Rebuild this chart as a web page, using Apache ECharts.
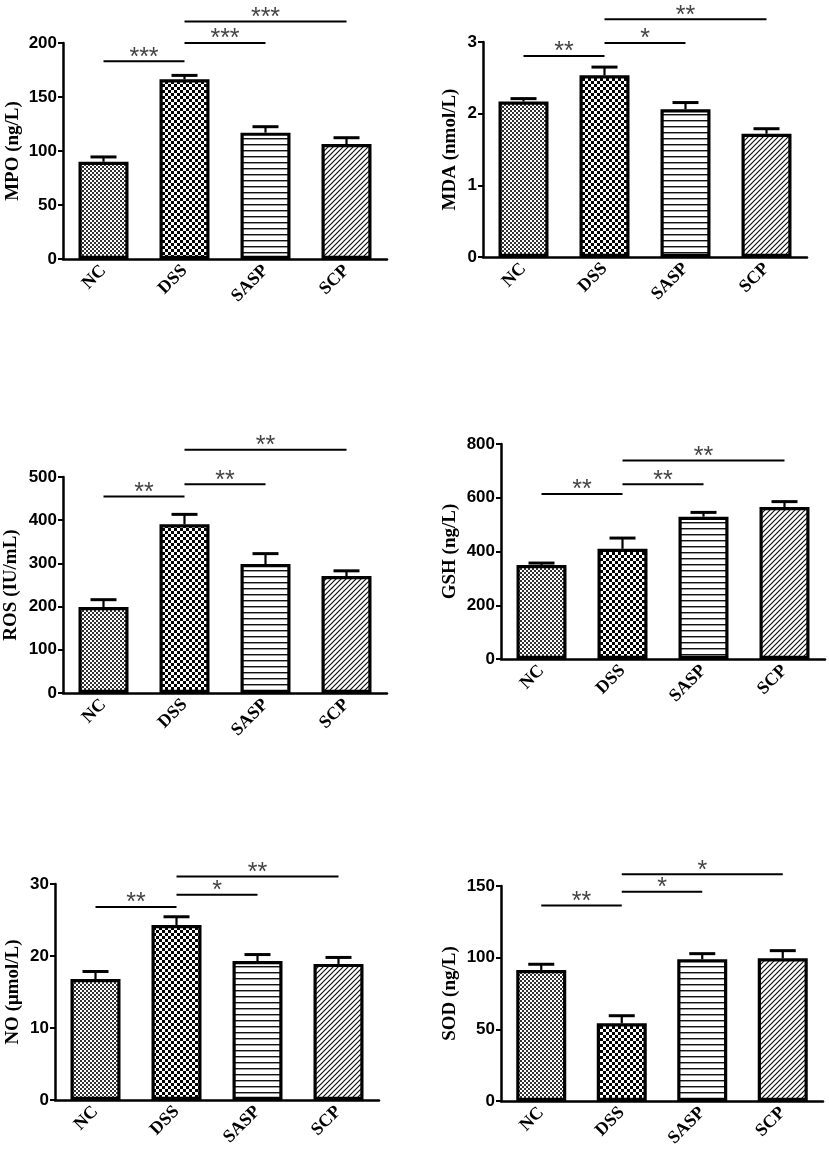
<!DOCTYPE html>
<html>
<head>
<meta charset="utf-8">
<title></title>
    <style>
        * {
            margin: 0;
            padding: 0;
        }
        body {
            background: #fff;
        }
        #main {
            width: 829px;
            height: 1152px;
        }
    </style>
</head>
<body>
<div id="main"></div>
<script src="https://cdn.jsdelivr.net/npm/echarts@6/dist/echarts.min.js"></script>
<script>
    var groups = ['NC', 'DSS', 'SASP', 'SCP'];

    // means and error (SEM, upper bar only)
    var mpoMean = [90, 166.4, 117, 106.5];
    var mpoErr = [4.5, 3.6, 5.5, 5.8];
    var mdaMean = [2.17, 2.535, 2.06, 1.72];
    var mdaErr = [0.04, 0.115, 0.095, 0.07];
    var rosMean = [199, 390.5, 298.6, 270.8];
    var rosErr = [17, 23, 24, 12];
    var gshMean = [350, 410, 529.5, 565.6];
    var gshErr = [7, 40, 16, 20];
    var noMean = [16.8, 24.3, 19.3, 18.9];
    var noErr = [1.05, 1.15, 0.9, 0.9];
    var sodMean = [91.4, 54.2, 98.9, 99.6];
    var sodErr = [4, 5.3, 3.9, 5.3];

    // significance brackets: [from group, to group, height, stars]
    var mpoSig = [[0, 1, 183, '***'], [1, 2, 200, '***'], [1, 3, 220, '***']];
    var mdaSig = [[0, 1, 2.805, '**'], [1, 2, 2.986, '*'], [1, 3, 3.317, '**']];
    var rosSig = [[0, 1, 455, '**'], [1, 2, 483, '**'], [1, 3, 563, '**']];
    var gshSig = [[0, 1, 614, '**'], [1, 2, 650, '**'], [1, 3, 739, '**']];
    var noSig = [[0, 1, 26.8, '**'], [1, 2, 28.5, '*'], [1, 3, 31.05, '**']];
    var sodSig = [[0, 1, 136.4, '**'], [1, 2, 146, '*'], [1, 3.17, 158.2, '*']];

    var yNames = ['MPO (ng/L)', 'MDA (nmol/L)', 'ROS (IU/mL)', 'GSH (ng/L)', 'NO (μmol/L)', 'SOD (ng/L)'];
    var yMax = [200, 3, 500, 800, 30, 150];
    var yStep = [50, 1, 100, 200, 10, 50];

    // fill patterns
    function makeCanvas(w, h) {
        var c = document.createElement('canvas');
        c.width = w;
        c.height = h;
        return c;
    }
    function checker(size, dark) {
        var c = makeCanvas(size * 2, size * 2);
        var ctx = c.getContext('2d');
        ctx.fillStyle = '#fff';
        ctx.fillRect(0, 0, size * 2, size * 2);
        ctx.fillStyle = dark;
        ctx.fillRect(0, 0, size, size);
        ctx.fillRect(size, size, size, size);
        return c;
    }
    function hLines() {
        var c = makeCanvas(4, 6);
        var ctx = c.getContext('2d');
        ctx.fillStyle = '#fff';
        ctx.fillRect(0, 0, 4, 6);
        ctx.fillStyle = '#111';
        ctx.fillRect(0, 0, 4, 1);
        ctx.fillStyle = '#999';
        ctx.fillRect(0, 1, 4, 1);
        return c;
    }
    function diag() {
        var s = 5;
        var c = makeCanvas(s, s);
        var ctx = c.getContext('2d');
        ctx.fillStyle = '#fff';
        ctx.fillRect(0, 0, s, s);
        ctx.strokeStyle = '#111';
        ctx.lineWidth = 1.2;
        ctx.beginPath();
        ctx.moveTo(0, s); ctx.lineTo(s, 0);
        ctx.moveTo(-1, 1); ctx.lineTo(1, -1);
        ctx.moveTo(s - 1, s + 1); ctx.lineTo(s + 1, s - 1);
        ctx.stroke();
        return c;
    }
    var fills = [
        {image: checker(2, '#333'), repeat: 'repeat'},
        {image: checker(3, '#000'), repeat: 'repeat'},
        {image: hLines(), repeat: 'repeat'},
        {image: diag(), repeat: 'repeat'}
    ];

    var panels = [
        {mean: mpoMean, err: mpoErr, sig: mpoSig, grid: {left: 63, top: 43, width: 324, height: 216}, gap: 40},
        {mean: mdaMean, err: mdaErr, sig: mdaSig, grid: {left: 483, top: 42, width: 324, height: 215}, gap: 23},
        {mean: rosMean, err: rosErr, sig: rosSig, grid: {left: 63, top: 477, width: 324, height: 216}, gap: 42},
        {mean: gshMean, err: gshErr, sig: gshSig, grid: {left: 501, top: 444, width: 324, height: 215}, gap: 41},
        {mean: noMean, err: noErr, sig: noSig, grid: {left: 55, top: 884, width: 324, height: 216}, gap: 32},
        {mean: sodMean, err: sodErr, sig: sodSig, grid: {left: 501, top: 886, width: 322, height: 215}, gap: 41}
    ];

    var option = {
        animation: false,
        backgroundColor: '#fff',
        grid: [],
        xAxis: [],
        yAxis: [],
        series: []
    };

    panels.forEach(function (p, k) {
        option.grid.push(p.grid);
        option.xAxis.push({
            type: 'category',
            gridIndex: k,
            data: groups,
            axisLine: {lineStyle: {color: '#000', width: 2.5}},
            axisTick: {alignWithLabel: true, length: 6, lineStyle: {color: '#000', width: 2}},
            axisLabel: {
                rotate: 45,
                margin: 9,
                color: '#000',
                fontFamily: 'Liberation Serif',
                fontWeight: 'bold',
                fontSize: 18
            }
        });
        option.yAxis.push({
            type: 'value',
            gridIndex: k,
            min: 0,
            max: yMax[k],
            interval: yStep[k],
            name: yNames[k],
            nameLocation: 'middle',
            nameGap: p.gap,
            nameTextStyle: {
                color: '#000',
                fontFamily: 'Liberation Serif',
                fontWeight: 'bold',
                fontSize: 19
            },
            splitLine: {show: false},
            axisLine: {show: true, lineStyle: {color: '#000', width: 2.5}},
            axisTick: {show: true, length: 5, lineStyle: {color: '#000', width: 2}},
            axisLabel: {
                margin: 6,
                color: '#000',
                fontFamily: 'Liberation Sans',
                fontWeight: 'bold',
                fontSize: 17
            }
        });

        option.series.push({
            type: 'bar',
            xAxisIndex: k,
            yAxisIndex: k,
            barWidth: 50,
            data: p.mean.map(function (v, i) {
                return {
                    value: v,
                    itemStyle: {color: fills[i], borderColor: '#000', borderWidth: 3.2}
                };
            }),
            z: 2
        });

        // error bars
        option.series.push({
            type: 'custom',
            xAxisIndex: k,
            yAxisIndex: k,
            data: p.mean.map(function (v, i) { return [i, v, v + p.err[i]]; }),
            encode: {x: 0, y: [1, 2]},
            z: 3,
            renderItem: function (params, api) {
                var lo = api.coord([api.value(0), api.value(1)]);
                var hi = api.coord([api.value(0), api.value(2)]);
                return {
                    type: 'group',
                    children: [
                        {type: 'line', shape: {x1: lo[0], y1: lo[1], x2: hi[0], y2: hi[1]}, style: {stroke: '#000', lineWidth: 2.2}},
                        {type: 'line', shape: {x1: hi[0] - 13, y1: hi[1], x2: hi[0] + 13, y2: hi[1]}, style: {stroke: '#000', lineWidth: 3}}
                    ]
                };
            }
        });

        // significance brackets
        option.series.push({
            type: 'custom',
            xAxisIndex: k,
            yAxisIndex: k,
            clip: false,
            data: p.sig.map(function (s) { return [s[0], s[1], s[2]]; }),
            encode: {x: [0, 1], y: 2},
            z: 4,
            renderItem: function (params, api) {
                var a = api.coord([api.value(0), api.value(2)]);
                var b = api.coord([api.value(1), api.value(2)]);
                return {
                    type: 'group',
                    children: [
                        {type: 'line', shape: {x1: a[0], y1: a[1], x2: b[0], y2: b[1]}, style: {stroke: '#000', lineWidth: 2}},
                        {
                            type: 'text',
                            x: (a[0] + b[0]) / 2,
                            y: a[1] + 9,
                            style: {
                                text: p.sig[params.dataIndex][3],
                                fill: '#444',
                                font: '25px "Liberation Sans"',
                                align: 'center',
                                verticalAlign: 'bottom'
                            }
                        }
                    ]
                };
            }
        });
    });

    var myChart = echarts.init(document.getElementById('main'));
    myChart.setOption(option);
</script>
</body>
</html>
